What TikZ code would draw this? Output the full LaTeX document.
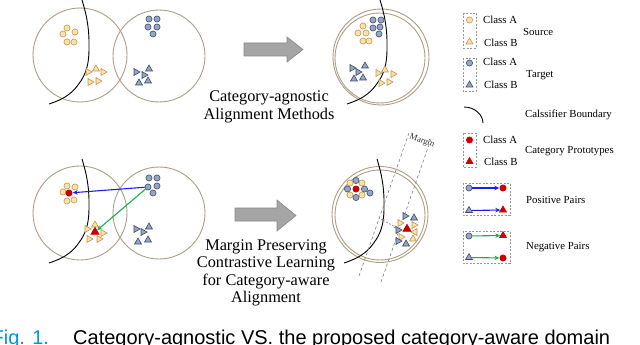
\documentclass[tikz,border=0pt]{standalone}
\usepackage{fontspec}
\setmainfont{Liberation Serif}
\newfontfamily\capfont{Liberation Sans}
\usetikzlibrary{shapes.geometric,arrows.meta}
\definecolor{domc}{RGB}{172,157,132}
\definecolor{yfill}{RGB}{250,226,165}
\definecolor{ydraw}{RGB}{190,150,85}
\definecolor{bfill}{RGB}{150,165,192}
\definecolor{bdraw}{RGB}{60,75,108}
\definecolor{protored}{RGB}{204,0,0}
\definecolor{pblue}{RGB}{30,30,235}
\definecolor{ngreen}{RGB}{25,175,75}
\definecolor{agray}{RGB}{165,165,165}
\definecolor{adraw}{RGB}{135,135,135}
\definecolor{boxgray}{RGB}{150,150,150}
\definecolor{capblue}{RGB}{0,150,220}
\begin{document}
\begin{tikzpicture}[x=1pt,y=-1pt,
  dom/.style={circle,draw=domc,line width=0.9pt,inner sep=0pt},
  ya/.style={circle,fill=yfill,draw=ydraw,line width=0.6pt,inner sep=0pt,minimum size=6.2pt},
  ba/.style={circle,fill=bfill,draw=bdraw,line width=0.6pt,inner sep=0pt,minimum size=6.2pt},
  tri/.style={regular polygon,regular polygon sides=3,inner sep=0pt,minimum size=8pt,line width=0.6pt},
  yb/.style={tri,fill=yfill,draw=ydraw},
  bb/.style={tri,fill=bfill,draw=bdraw},
  protoc/.style={circle,fill=protored,inner sep=0pt,minimum size=7pt},
  protot/.style={tri,fill=protored,draw=protored,minimum size=9.5pt},
  bound/.style={line width=0.9pt,black},
  legbox/.style={draw=boxgray,dash pattern=on 2pt off 1.5pt,line width=0.6pt},
  legtxt/.style={font=\fontsize{10.8}{12}\selectfont,inner sep=0pt,anchor=west},
  lbl/.style={font=\fontsize{16.3}{18}\selectfont,inner sep=0pt,anchor=base},
  posarr/.style={draw=pblue,line width=1.1pt,-{Stealth[length=5pt,width=4.5pt]}},
  negarr/.style={draw=ngreen,line width=1.1pt,-{Stealth[length=5pt,width=4.5pt]}},
  bigarr/.style={fill=agray,draw=adraw,line width=0.6pt},
  margl/.style={draw=gray,line width=0.6pt,dash pattern=on 3pt off 2.5pt},
  bcurve/.pic={\draw[bound] plot[smooth,tension=0.7] coordinates {(82,0) (87,20) (89,43) (87,67) (78,85) (65,97) (49,104)};}
]
\useasboundingbox (0,0) rectangle (640,345);
\clip (0,0) rectangle (640,345);

% ---------------- top-left: two domains ----------------
\node[dom,minimum size=94pt] (d1) at (80,55) {};
\node[dom,minimum size=92pt] (d2) at (159,56) {};
\pic at (0,0) {bcurve};
\foreach \x/\y [count=\i] in {67/28,75/32,63/34,67/42,74/42}
  \node[ya] (tlsa\i) at (\x,\y) {};
\foreach \x/\y/\r [count=\i] in {88/72/-90,96/69/0,103/72/-90,90/82/-90,98/81/-90}
  \node[yb,shape border rotate=\r] (tlsb\i) at (\x,\y) {};
\foreach \x/\y [count=\i] in {149/19,157/19,148/27,157/27,153/34}
  \node[ba] (tlta\i) at (\x,\y) {};
\foreach \x/\y/\r [count=\i] in {136/72/-90,144/75/-90,149/69/0,139/83/0,148/81/0}
  \node[bb,shape border rotate=\r] (tltb\i) at (\x,\y) {};

% top arrow and label
\path[bigarr] (244,43) -- (287,43) -- (287,37) -- (303,49.5) -- (287,62) -- (287,56) -- (244,56) -- cycle;
\node[lbl] (tl1) at (269,101) {Category-agnostic};
\node[lbl] (tl2) at (269,119) {Alignment Methods};

% ---------------- top-right ----------------
\node[dom,minimum size=96pt] (d3o) at (381,57) {};
\node[dom,minimum size=90pt] (d3i) at (380,58) {};
\pic at (298,0) {bcurve};
\foreach \x/\y [count=\i] in {363/26,358/33,366/33,363/41,369/41}
  \node[ya] (trsa\i) at (\x,\y) {};
\foreach \x/\y [count=\i] in {373/20,381/20,373/28,380/27,379/34}
  \node[ba] (trta\i) at (\x,\y) {};
\foreach \x/\y/\r [count=\i] in {352/68/-90,358/72/-90,365/66/0,354/79/0,363/78/0}
  \node[bb,shape border rotate=\r] (trtb\i) at (\x,\y) {};
\foreach \x/\y/\r [count=\i] in {378/73/-90,385/70/0,393/74/-90,381/83/-90,389/82/-90}
  \node[yb,shape border rotate=\r] (trsb\i) at (\x,\y) {};

% ---------------- bottom-left ----------------
\node[dom,minimum size=94pt] (d4) at (80,213) {};
\node[dom,minimum size=92pt] (d5) at (159,213) {};
\pic at (0,159) {bcurve};
\foreach \x/\y [count=\i] in {67/186,75/187,63/192,67/201,74/200}
  \node[ya] (blsa\i) at (\x,\y) {};
\foreach \x/\y/\r [count=\i] in {87/229/-90,95/225/0,103/233/-90,89/239/-90,99/239/-90}
  \node[yb,shape border rotate=\r] (blsb\i) at (\x,\y) {};
\foreach \x/\y [count=\i] in {149/178,157/178,148/187,157/186,153/193}
  \node[ba] (blta\i) at (\x,\y) {};
\foreach \x/\y/\r [count=\i] in {136/229/-90,143/232/-90,149/227/0,138/242/0,148/240/0}
  \node[bb,shape border rotate=\r] (bltb\i) at (\x,\y) {};
\node[protoc] (blpc) at (69,193) {};
\node[protot] (blpt) at (95,232) {};
\draw[posarr] (blta3) -- (blpc);
\draw[negarr] (blta3) -- (blpt);

% bottom arrow and label
\path[bigarr] (235,208) -- (277,208) -- (277,200) -- (296,215.5) -- (277,231) -- (277,221) -- (235,221) -- cycle;
\node[lbl] (bl1) at (266,250) {Margin Preserving};
\node[lbl] (bl2) at (266,267.5) {Contrastive Learning};
\node[lbl] (bl3) at (266,285) {for Category-aware};
\node[lbl] (bl4) at (266,302.5) {Alignment};

% ---------------- bottom-right ----------------
\node[dom,minimum size=96pt] (d6o) at (380,214.5) {};
\node[dom,minimum size=90pt] (d6i) at (380,215) {};
\pic at (295,159) {bcurve};
\coordinate (ma1) at (409,133);
\coordinate (mb1) at (359,276);
\coordinate (ma2) at (431,139);
\coordinate (mb2) at (381,282);
\draw[margl] (ma1) -- (mb1);
\draw[margl] (ma2) -- (mb2);
\node[rotate=-20,font=\fontsize{8.8}{10}\selectfont,inner sep=0pt,text=black!80] (mtxt) at (422,141) {Margin};
\foreach \x/\y/\s [count=\i] in {364.5/189/ba,362/183/ya,356/180.5/ba,350/183/ya,347.5/189/ba,350/195/ya,356/197.5/ba,362/195/ya,370/193/ba}
  \node[\s] (brc\i) at (\x,\y) {};
\node[protoc] (brpc) at (356,189) {};
\foreach \x/\y/\s/\r [count=\i] in {405/216/bb/-90,414/218/bb/0,400/223/yb/-90,414/225/yb/-90,398/230/bb/-90,415/232/yb/90,401/237/yb/-90,413/239/yb/0,398/241/bb/-90,406/244/bb/0}
  \node[\s,shape border rotate=\r] (brt\i) at (\x,\y) {};
\node[protot] (brpt) at (407,229) {};
\coordinate (mg1) at (381,219);
\coordinate (mg2) at (397,228);
\draw[draw=gray,line width=0.6pt,dash pattern=on 2pt off 1.5pt,{Stealth[length=3.5pt,width=3pt]}-{Stealth[length=3.5pt,width=3pt]}] (mg1) -- (mg2);

% ---------------- legend ----------------
\draw[legbox] (463,13) rectangle (476,48);
\node[ya] (lg1) at (469.5,20) {};
\node[yb] (lg2) at (469.5,42) {};
\node[legtxt] (lt1) at (483,20) {Class A};
\node[legtxt] (lt2) at (484,43) {Class B};
\node[legtxt] (lt3) at (523,32) {Source};

\draw[legbox] (463,58) rectangle (476,91);
\node[ba] (lg3) at (469.5,63) {};
\node[bb] (lg4) at (469.5,85) {};
\node[legtxt] (lt4) at (483,62) {Class A};
\node[legtxt] (lt5) at (484,85) {Class B};
\node[legtxt] (lt6) at (526,75) {Target};

\draw[bound] (464,107) .. controls (475,107) and (483,115) .. (483,123);
\node[legtxt] (lt7) at (525,115) {Calssifier Boundary};

\draw[legbox] (463,133) rectangle (476,167);
\node[protoc] (lg5) at (469.5,140) {};
\node[protot,minimum size=8pt] (lg6) at (469.5,161.5) {};
\node[legtxt] (lt8) at (483,140) {Class A};
\node[legtxt] (lt9) at (484,162) {Class B};
\node[legtxt] (lt10) at (525,151) {Category Prototypes};

\draw[legbox] (463,183) rectangle (510,215);
\node[ba] (lp1) at (469,188) {};
\node[protoc] (lp2) at (503,188) {};
\draw[posarr] (lp1) -- (lp2);
\node[bb] (lp3) at (469,210.5) {};
\node[protot,minimum size=8pt] (lp4) at (503,210) {};
\draw[posarr] (lp3) -- (lp4);
\node[legtxt] (lt11) at (526,200) {Positive Pairs};

\draw[legbox] (463,231) rectangle (510,263);
\node[ba] (ln1) at (469,236) {};
\node[protot,minimum size=8pt] (ln2) at (503,235.5) {};
\draw[negarr] (ln1) -- (ln2);
\node[bb] (ln3) at (469,257.5) {};
\node[protoc] (ln4) at (503,258) {};
\draw[negarr] (ln3) -- (ln4);
\node[legtxt] (lt12) at (526,247) {Negative Pairs};

% ---------------- caption ----------------
\node[font=\capfont\fontsize{20}{24}\selectfont,text=capblue,anchor=base west,inner sep=0pt] (fig) at (-8.6,344.5) {Fig. 1.};
\node[font=\capfont\fontsize{20}{24}\selectfont,anchor=base west,inner sep=0pt] (cap) at (73,344.5) {Category-agnostic VS. the proposed category-aware domain};
\end{tikzpicture}
\end{document}
